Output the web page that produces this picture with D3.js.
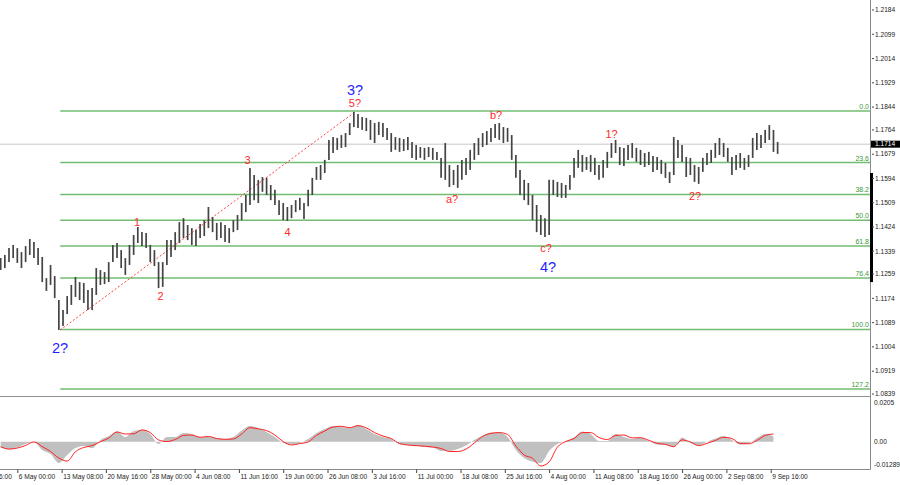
<!DOCTYPE html>
<html><head><meta charset="utf-8">
<script src="https://cdn.jsdelivr.net/npm/d3@7"></script>
<style>
html,body{margin:0;padding:0;background:#fff;}
svg{display:block;font-family:"Liberation Sans",Arial,sans-serif;}
</style></head><body>
<svg id="chart" width="900" height="485"></svg>
<script>
// ---------- DATA ----------
// price bars (12h each), first bar at H4-bar index 24, 3 H4 bars per drawn bar
const barStartIndex = 24;
const barStep = 3;
const highs = [
1.1315,1.1326,1.1350,1.1361,1.1350,1.1336,1.1357,1.1382,1.1371,1.1350,
1.1319,1.1245,1.1291,1.1252,1.1168,1.1133,1.1182,1.1221,1.1249,1.1231,
1.1228,1.1203,1.1210,1.1280,1.1273,1.1266,1.1301,1.1361,1.1368,1.1343,
1.1315,1.1361,1.1396,1.1424,1.1406,1.1403,1.1361,1.1343,1.1301,1.1301,
1.1378,1.1378,1.1406,1.1441,1.1455,1.1431,1.1420,1.1413,1.1434,1.1448,
1.1494,1.1459,1.1438,1.1441,1.1431,1.1420,1.1448,1.1466,1.1508,1.1536,
1.1631,1.1606,1.1589,1.1599,1.1596,1.1571,1.1554,1.1518,1.1508,1.1494,
1.1501,1.1518,1.1526,1.1508,1.1554,1.1596,1.1634,1.1641,1.1659,1.1729,
1.1739,1.1736,1.1746,1.1753,1.1788,1.1827,1.1820,1.1809,1.1806,1.1799,
1.1788,1.1792,1.1788,1.1771,1.1753,1.1739,1.1736,1.1732,1.1739,1.1722,
1.1711,1.1704,1.1701,1.1704,1.1701,1.1687,1.1666,1.1718,1.1641,1.1624,
1.1641,1.1659,1.1666,1.1694,1.1718,1.1736,1.1753,1.1760,1.1771,1.1785,
1.1788,1.1774,1.1771,1.1746,1.1676,1.1624,1.1589,1.1578,1.1536,1.1501,
1.1466,1.1455,1.1589,1.1589,1.1582,1.1578,1.1571,1.1606,1.1666,1.1694,
1.1676,1.1669,1.1676,1.1666,1.1641,1.1659,1.1687,1.1718,1.1729,1.1704,
1.1701,1.1711,1.1718,1.1701,1.1694,1.1683,1.1687,1.1673,1.1669,1.1659,
1.1648,1.1617,1.1739,1.1729,1.1711,1.1669,1.1666,1.1641,1.1634,1.1666,
1.1683,1.1694,1.1718,1.1736,1.1718,1.1701,1.1669,1.1676,1.1683,1.1666,
1.1676,1.1736,1.1753,1.1746,1.1764,1.1781,1.1764,1.1722];
const lows = [
1.1273,1.1280,1.1301,1.1315,1.1298,1.1280,1.1301,1.1326,1.1315,1.1291,
1.1231,1.1200,1.1221,1.1175,1.1063,1.1077,1.1119,1.1151,1.1179,1.1168,
1.1158,1.1133,1.1133,1.1186,1.1221,1.1224,1.1231,1.1301,1.1315,1.1280,
1.1256,1.1291,1.1326,1.1368,1.1357,1.1350,1.1301,1.1287,1.1210,1.1214,
1.1291,1.1319,1.1343,1.1368,1.1385,1.1378,1.1361,1.1357,1.1385,1.1392,
1.1420,1.1406,1.1378,1.1385,1.1371,1.1368,1.1406,1.1413,1.1448,1.1476,
1.1501,1.1518,1.1508,1.1547,1.1536,1.1518,1.1501,1.1466,1.1448,1.1445,
1.1455,1.1476,1.1483,1.1452,1.1497,1.1536,1.1589,1.1589,1.1613,1.1659,
1.1683,1.1694,1.1701,1.1704,1.1746,1.1774,1.1771,1.1764,1.1760,1.1729,
1.1718,1.1746,1.1739,1.1729,1.1687,1.1694,1.1687,1.1690,1.1694,1.1666,
1.1659,1.1666,1.1659,1.1669,1.1659,1.1659,1.1596,1.1589,1.1564,1.1571,
1.1561,1.1589,1.1606,1.1624,1.1659,1.1676,1.1704,1.1711,1.1722,1.1736,
1.1729,1.1718,1.1722,1.1659,1.1596,1.1536,1.1518,1.1501,1.1448,1.1406,
1.1396,1.1389,1.1396,1.1536,1.1529,1.1526,1.1526,1.1554,1.1596,1.1631,
1.1617,1.1624,1.1617,1.1606,1.1589,1.1596,1.1631,1.1666,1.1683,1.1641,
1.1638,1.1659,1.1666,1.1652,1.1641,1.1634,1.1641,1.1617,1.1624,1.1610,
1.1596,1.1578,1.1606,1.1666,1.1652,1.1599,1.1606,1.1582,1.1575,1.1617,
1.1641,1.1648,1.1666,1.1676,1.1669,1.1652,1.1606,1.1624,1.1631,1.1624,
1.1634,1.1666,1.1694,1.1701,1.1718,1.1729,1.1687,1.1680];

// oscillator (MACD) sampled every 6 H4 bars, from H4-bar index 24
const oscStartIndex = 24;
const oscStep = 6;
const macdHist = [
-0.0029,-0.0036,-0.0028,-0.0011,-0.0001,-0.0041,-0.0060,-0.0104,-0.0065,-0.0031,
-0.0021,-0.0031,0.0009,0.0028,0.0050,0.0023,0.0053,0.0058,0.0038,-0.0011,
0.0023,0.0023,0.0043,0.0038,0.0021,0.0026,0.0018,0.0014,0.0023,0.0055,
0.0077,0.0068,0.0048,0.0023,-0.0006,-0.0014,-0.0006,0.0014,0.0043,0.0063,
0.0077,0.0072,0.0068,0.0082,0.0063,0.0038,0.0023,0.0014,-0.0011,-0.0016,
-0.0019,-0.0026,-0.0028,-0.0045,-0.0045,-0.0036,-0.0018,0.0009,0.0031,0.0045,
0.0045,0.0023,-0.0041,-0.0080,-0.0098,-0.0104,-0.0045,-0.0011,0.0004,0.0021,
0.0050,0.0038,0.0004,0.0004,0.0038,0.0023,0.0014,0.0020,0.0004,-0.0013,
-0.0016,-0.0026,0.0021,-0.0006,-0.0018,0.0000,0.0016,0.0028,0.0009,-0.0014,
-0.0009,0.0018,0.0038,0.0026];
const macdSignal = [
-0.0024,-0.0036,-0.0031,-0.0018,-0.0001,-0.0024,-0.0048,-0.0080,-0.0095,-0.0049,
-0.0028,-0.0019,0.0000,0.0018,0.0048,0.0038,0.0039,0.0058,0.0045,0.0009,
0.0001,0.0011,0.0031,0.0033,0.0022,0.0026,0.0016,0.0012,0.0014,0.0038,
0.0069,0.0063,0.0055,0.0033,0.0001,-0.0016,-0.0009,-0.0001,0.0031,0.0053,
0.0072,0.0076,0.0069,0.0079,0.0068,0.0045,0.0028,0.0016,-0.0009,-0.0016,
-0.0019,-0.0022,-0.0026,-0.0033,-0.0048,-0.0048,-0.0036,-0.0006,0.0026,0.0041,
0.0045,0.0036,-0.0021,-0.0065,-0.0081,-0.0119,-0.0099,-0.0026,0.0001,0.0016,
0.0045,0.0045,0.0021,0.0011,0.0031,0.0033,0.0019,0.0020,0.0007,-0.0008,
-0.0013,-0.0024,0.0009,-0.0001,-0.0019,-0.0008,0.0006,0.0022,0.0016,-0.0009,
-0.0010,0.0006,0.0031,0.0038];

// axes
const priceTicks = [1.2184,1.2099,1.2014,1.1929,1.1844,1.1764,1.1679,1.1594,1.1509,1.1424,1.1339,1.1259,1.1174,1.1089,1.1004,1.0919,1.0839];
const oscTickValues = [0.0205, 0.00, -0.01289];
const oscTickLabels = ["0.0205", "0.00", "-0.01289"];
const dateLabels = ["28 Apr 16:00","6 May 00:00","13 May 08:00","20 May 16:00","28 May 00:00","4 Jun 08:00","11 Jun 16:00","19 Jun 00:00","26 Jun 08:00","3 Jul 16:00","11 Jul 00:00","18 Jul 08:00","25 Jul 16:00","4 Aug 00:00","11 Aug 08:00","18 Aug 16:00","26 Aug 00:00","2 Sep 08:00","9 Sep 16:00"];
const dateBars = [4,36,68,100,132,164,196,228,260,292,324,356,388,420,452,484,516,548,580];
const lastPrice = 1.1714;
const axisMarkRange = [1.1231, 1.1613];

// Fibonacci retracement
const fibHigh = 1.1830, fibLow = 1.1065, fibStartBar = 67;
const fibRatios = [0, 23.6, 38.2, 50.0, 61.8, 76.4, 100.0, 127.2];

// trend line (wave 2? low to 5? high)
const trendBars = [66.9, 279.9];
const trendPrices = [1.1063, 1.1827];

// wave labels
const labelTexts  = ["2?","3?","4?","5?","1","2","3","4","a?","b?","c?","1?","2?"];
const labelBars   = [66.8,279.8,419.2,279.8,122.4,139.4,202.2,231.1,349.9,381.7,417.8,465.1,525.4];
const labelPrices = [1.0983,1.1888,1.1265,1.1844,1.1429,1.1168,1.1645,1.1392,1.1508,1.1802,1.1336,1.1734,1.1520];
const labelKinds  = ["major","major","major","minor","minor","minor","minor","minor","minor","minor","minor","minor","minor"];

// ---------- DRAW ----------
const svg = d3.select('#chart');
const plotR = 870;
const x = d3.scaleLinear().domain([23.5, 651.7]).range([0, plotR]);
const y = d3.scaleLinear().domain([1.08355, 1.2219]).range([395, 0]);
const yo = d3.scaleLinear().domain([-0.01289, 0.0205]).range([468, 400]);

const defs = svg.append('defs');
defs.append('clipPath').attr('id','cMain').append('rect').attr('x',0).attr('y',0).attr('width',plotR).attr('height',395);
defs.append('clipPath').attr('id','cOsc').append('rect').attr('x',0).attr('y',399).attr('width',plotR).attr('height',70);

svg.append('rect').attr('width',900).attr('height',485).attr('fill','#fff');

const main = svg.append('g').attr('clip-path','url(#cMain)');

// current price line
main.append('line').attr('x1',0).attr('x2',plotR).attr('y1',y(lastPrice)).attr('y2',y(lastPrice))
  .attr('stroke','#c8c8c8').attr('stroke-width',1);

// fib levels
const fib = fibRatios.map(r => ({r, p: fibHigh - (fibHigh - fibLow) * r / 100}));
main.selectAll('line.fib').data(fib).join('line').attr('class','fib')
  .attr('x1', x(fibStartBar)).attr('x2', plotR)
  .attr('y1', d => y(d.p)).attr('y2', d => y(d.p))
  .attr('stroke', '#72bd72').attr('stroke-width', 1.5);
main.selectAll('text.fibl').data(fib).join('text').attr('class','fibl')
  .attr('x', plotR - 1).attr('y', d => y(d.p) - 2)
  .attr('text-anchor','end').attr('font-size', 7).attr('fill', '#3a9a3a')
  .text(d => d.r.toFixed(1));

// trend line
main.append('line')
  .attr('x1', x(trendBars[0])).attr('y1', y(trendPrices[0]))
  .attr('x2', x(trendBars[1])).attr('y2', y(trendPrices[1]))
  .attr('stroke', '#ff4040').attr('stroke-width', 1).attr('stroke-dasharray', '2,2');

// bars
const bars = highs.map((hi, i) => ({h: barStartIndex + barStep * i, hi, lo: lows[i]}));
main.selectAll('line.bar').data(bars).join('line').attr('class','bar')
  .attr('x1', d => x(d.h)).attr('x2', d => x(d.h))
  .attr('y1', d => y(d.hi)).attr('y2', d => y(d.lo))
  .attr('stroke', '#444').attr('stroke-width', 1.7);

// wave labels
const labels = labelTexts.map((t, i) => ({t, h: labelBars[i], p: labelPrices[i], k: labelKinds[i]}));
main.selectAll('text.wl').data(labels).join('text').attr('class','wl')
  .attr('x', d => x(d.h)).attr('y', d => y(d.p))
  .attr('text-anchor','middle')
  .attr('font-size', d => d.k === 'major' ? 14.5 : 11)
  .attr('fill', d => d.k === 'major' ? '#1f1fff' : '#ff2a2a')
  .text(d => d.t);

// ---------- oscillator ----------
const osc = svg.append('g').attr('clip-path','url(#cOsc)');
const od = macdHist.map((v, i) => ({h: oscStartIndex + oscStep * i, v, s: macdSignal[i]}));
osc.append('path').datum(od)
  .attr('d', d3.area().x(d => x(d.h)).y0(yo(0)).y1(d => yo(d.v)).curve(d3.curveMonotoneX))
  .attr('fill', '#c0c0c0');
osc.append('path').datum(od)
  .attr('d', d3.line().x(d => x(d.h)).y(d => yo(d.s)).curve(d3.curveMonotoneX))
  .attr('fill', 'none').attr('stroke', '#ff2020').attr('stroke-width', 1);

// ---------- frames & axes ----------
// separator between panels
svg.append('line').attr('x1',0).attr('x2',plotR).attr('y1',396.5).attr('y2',396.5).attr('stroke','#909090').attr('stroke-width',1.2);
// bottom axis line
svg.append('line').attr('x1',0).attr('x2',plotR+0.5).attr('y1',469.5).attr('y2',469.5).attr('stroke','#8a8a8a').attr('stroke-width',1);
// right axis line
svg.append('line').attr('x1',plotR+0.5).attr('x2',plotR+0.5).attr('y1',0).attr('y2',469.5).attr('stroke','#8a8a8a').attr('stroke-width',1);
svg.append('rect').attr('x', plotR).attr('y', y(axisMarkRange[1])).attr('width', 3)
  .attr('height', y(axisMarkRange[0]) - y(axisMarkRange[1])).attr('fill', '#000');

// price ticks
const pt = svg.append('g');
pt.selectAll('line').data(priceTicks).join('line')
  .attr('x1', plotR + 2).attr('x2', plotR + 4).attr('y1', d => y(d)).attr('y2', d => y(d))
  .attr('stroke', '#444');
pt.selectAll('text').data(priceTicks).join('text')
  .attr('x', plotR + 5).attr('y', d => y(d)).attr('dy','0.35em')
  .attr('font-size', 6.6).attr('fill', '#222').text(d => d.toFixed(4));

// current price box
svg.append('rect').attr('x', plotR + 1).attr('y', y(lastPrice) - 3.5).attr('width', 29).attr('height', 7).attr('fill', '#000');
svg.append('text').attr('x', plotR + 5).attr('y', y(lastPrice)).attr('dy','0.35em')
  .attr('font-size', 6.6).attr('fill', '#fff').text(lastPrice.toFixed(4));

// oscillator ticks
const ot = svg.append('g');
ot.selectAll('text').data(oscTickValues).join('text')
  .attr('x', plotR + 4).attr('y', d => yo(d))
  .attr('dy', (d, i) => i === 0 ? '0.8em' : (i === 2 ? '-0.1em' : '0.35em'))
  .attr('font-size', 6.6).attr('fill', '#222').text((d, i) => oscTickLabels[i]);

// date ticks
const dt = svg.append('g');
dt.selectAll('line').data(dateBars).join('line')
  .attr('x1', d => x(d) + 0.5).attr('x2', d => x(d) + 0.5).attr('y1', 469.5).attr('y2', 473)
  .attr('stroke', '#444');
dt.selectAll('text').data(dateLabels).join('text')
  .attr('x', (d, i) => x(dateBars[i]) + 1.5).attr('y', 476.5).attr('dy','0.35em')
  .attr('font-size', 6.6).attr('fill', '#222').text(d => d);
</script>
</body></html>
